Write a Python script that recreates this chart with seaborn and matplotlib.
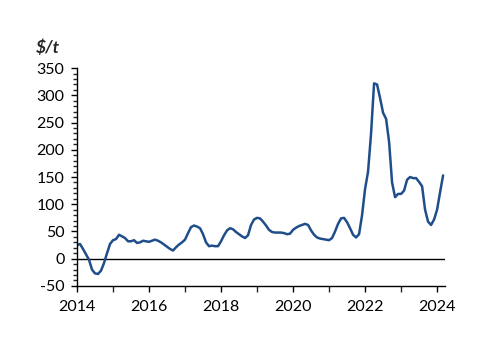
import numpy as np
import pandas as pd
import seaborn as sns
import matplotlib
matplotlib.use("Agg")
import matplotlib.pyplot as plt
from matplotlib.ticker import MultipleLocator

# monthly values, Jan 2014 .. Mar 2024 ($/t)
v2014 = [25, 27, 18, 8, -2, -20, -27, -28, -22, -8, 10, 27]
v2015 = [34, 36, 44, 41, 38, 32, 32, 34, 29, 30, 33, 32]
v2016 = [31, 33, 35, 33, 30, 26, 22, 18, 15, 21, 26, 30]
v2017 = [35, 47, 58, 61, 59, 56, 45, 30, 23, 24, 23, 23]
v2018 = [32, 43, 52, 56, 54, 49, 45, 41, 38, 43, 62, 72]
v2019 = [75, 74, 68, 61, 53, 49, 48, 48, 48, 47, 45, 46]
v2020 = [53, 57, 60, 62, 64, 62, 52, 44, 39, 37, 36, 35]
v2021 = [34, 38, 50, 64, 74, 75, 67, 56, 44, 39, 45, 80]
v2022 = [128, 160, 230, 322, 320, 295, 268, 257, 215, 140, 113, 119]
v2023 = [119, 125, 145, 150, 148, 148, 141, 133, 90, 68, 62, 72]
v2024 = [90, 122, 153]

values = v2014 + v2015 + v2016 + v2017 + v2018 + v2019 + v2020 + v2021 + v2022 + v2023 + v2024
years = 2014 + np.arange(len(values)) / 12
df = pd.DataFrame({"year": years, "value": values})

sns.set_style("white")
plt.rcParams["font.family"] = ["Lato", "DejaVu Sans"]
plt.rcParams["axes.unicode_minus"] = False

fig = plt.figure(figsize=(5, 3.53), dpi=100)
ax = fig.add_axes([0.154, 0.19, 0.736, 0.617])

sns.lineplot(data=df, x="year", y="value", ax=ax, color="#1F4E8A", linewidth=1.8)
ax.axhline(0, color="black", linewidth=1.0, zorder=1)

ax.set_xlim(2014, 2024.22)
ax.set_ylim(-50, 350)
ax.xaxis.set_major_locator(MultipleLocator(2))
ax.xaxis.set_minor_locator(MultipleLocator(1))
ax.yaxis.set_major_locator(MultipleLocator(50))
ax.yaxis.set_minor_locator(MultipleLocator(10))
ax.xaxis.set_major_formatter(plt.FuncFormatter(lambda x, p: f"{int(x)}"))

ax.tick_params(axis="both", which="major", direction="out", length=4, width=1,
               labelsize=11.5, colors="black", bottom=True, left=True)
ax.tick_params(axis="x", which="major", pad=6)
ax.tick_params(axis="y", which="major", pad=5)
ax.tick_params(axis="both", which="minor", direction="out", length=4, width=1,
               bottom=True, left=True)
ax.tick_params(axis="y", which="minor", length=3)

for s in ["top", "right"]:
    ax.spines[s].set_visible(False)
for s in ["left", "bottom"]:
    ax.spines[s].set_color("black")
    ax.spines[s].set_linewidth(1.0)

ax.set_xlabel("")
ax.set_ylabel("")
fig.text(0.095, 0.865, r"\$/t", fontsize=12.5, fontweight="bold", fontstyle="italic",
         ha="center", va="center")

fig.savefig("out.png", dpi=100)
